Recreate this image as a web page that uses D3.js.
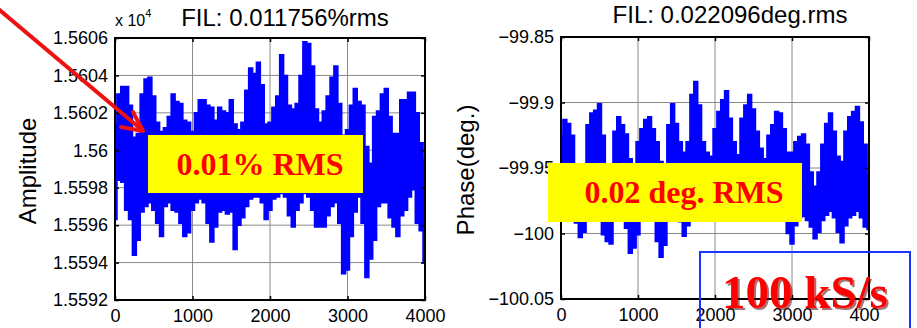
<!DOCTYPE html>
<html>
<head>
<meta charset="utf-8">
<script src="https://cdn.jsdelivr.net/npm/d3@7"></script>
<style>
  body { margin: 0; background: #fff; }
  svg { display: block; }
</style>
</head>
<body>
<svg id="chart" width="917" height="328"></svg>
<script>
// Filtered IQ capture, 4000 samples at 100 kS/s.
// Each window of 50 samples is kept as its highest and lowest reading.
const sampleStep = 50;
const sampleTicks = [0, 1000, 2000, 3000, 4000];

// Amplitude (raw counts), max / min per 50-sample window
const ampHigh = [
  15601.4, 15603.0, 15603.4, 15603.4, 15602.4, 15600.7, 15600.9, 15603.0, 15603.8, 15603.9,
  15602.9, 15601.5, 15601.0, 15601.2, 15601.8, 15603.0, 15602.6, 15602.5, 15601.6, 15601.5,
  15601.0, 15602.0, 15602.7, 15602.7, 15602.4, 15602.3, 15601.6, 15602.3, 15602.1, 15602.0,
  15602.7, 15601.4, 15601.1, 15601.5, 15603.2, 15604.4, 15604.1, 15604.7, 15603.5, 15601.4,
  15601.5, 15602.3, 15602.9, 15605.1, 15604.0, 15602.4, 15602.2, 15602.5, 15604.0, 15605.8,
  15605.7, 15604.5, 15602.2, 15601.5, 15602.1, 15602.9, 15603.9, 15604.5, 15602.5, 15600.8,
  15601.1, 15602.4, 15603.3, 15602.6, 15602.4, 15600.2, 15599.3, 15601.8, 15602.1, 15603.0,
  15603.3, 15601.8, 15600.9, 15600.9, 15602.7, 15602.7, 15603.1, 15603.1, 15602.0, 15600.4,
  15599.5
];
const ampLow = [
  15596.3, 15598.4, 15598.3, 15596.8, 15596.3, 15594.4, 15595.2, 15596.7, 15597.0, 15597.2,
  15596.8, 15596.1, 15595.4, 15597.0, 15597.2, 15596.8, 15596.7, 15596.1, 15595.4, 15595.6,
  15596.8, 15597.2, 15597.4, 15597.2, 15596.1, 15595.1, 15595.9, 15596.7, 15596.8, 15596.6,
  15596.7, 15594.7, 15596.0, 15596.4, 15597.0, 15597.4, 15597.5, 15597.5, 15597.2, 15596.3,
  15596.8, 15597.4, 15597.5, 15597.7, 15597.5, 15596.5, 15595.9, 15596.8, 15597.2, 15597.7,
  15597.5, 15596.8, 15595.9, 15595.9, 15595.9, 15596.5, 15597.0, 15597.2, 15596.1, 15593.4,
  15593.6, 15595.4, 15596.7, 15597.5, 15596.1, 15593.2, 15594.2, 15595.2, 15597.0, 15597.2,
  15597.2, 15596.4, 15595.9, 15595.4, 15596.5, 15596.8, 15597.5, 15597.9, 15596.1, 15595.7,
  15594.0
];
const ampTicks = [15592, 15594, 15596, 15598, 15600, 15602, 15604, 15606];

// Phase (deg.), max / min per 50-sample window
const phaseHigh = [
  -99.925, -99.913, -99.916, -99.925, -99.948, -99.950, -99.948, -99.917, -99.908, -99.906,
  -99.901, -99.925, -99.948, -99.949, -99.922, -99.911, -99.917, -99.924, -99.943, -99.948,
  -99.930, -99.920, -99.913, -99.911, -99.920, -99.930, -99.945, -99.947, -99.917, -99.901,
  -99.916, -99.930, -99.938, -99.930, -99.894, -99.884, -99.902, -99.930, -99.938, -99.941,
  -99.920, -99.907, -99.898, -99.891, -99.912, -99.930, -99.940, -99.912, -99.902, -99.894,
  -99.905, -99.922, -99.935, -99.943, -99.925, -99.917, -99.907, -99.908, -99.920, -99.938,
  -99.938, -99.930, -99.926, -99.924, -99.932, -99.953, -99.964, -99.953, -99.932, -99.916,
  -99.908, -99.922, -99.941, -99.945, -99.922, -99.911, -99.907, -99.903, -99.915, -99.932,
  -99.955
];
const phaseLow = [
  -99.986, -99.988, -99.990, -99.988, -99.992, -100.003, -99.999, -99.987, -99.981, -99.983,
  -99.987, -100.001, -100.006, -100.008, -99.988, -99.983, -99.986, -99.996, -100.015, -100.011,
  -100.001, -99.987, -99.983, -99.986, -99.990, -100.006, -100.018, -100.009, -99.990, -99.986,
  -99.987, -99.991, -100.002, -99.994, -99.986, -99.981, -99.983, -99.987, -99.988, -99.988,
  -99.988, -99.986, -99.983, -99.981, -99.986, -99.988, -99.990, -99.987, -99.983, -99.981,
  -99.983, -99.987, -99.988, -99.990, -99.988, -99.987, -99.983, -99.986, -99.990, -100.000,
  -100.008, -99.994, -99.988, -99.987, -99.990, -99.995, -100.004, -99.999, -99.990, -99.986,
  -99.983, -99.988, -99.999, -100.007, -99.994, -99.988, -99.986, -99.983, -99.988, -99.995,
  -99.997
];
const phaseTicks = [-100.05, -100, -99.95, -99.9, -99.85];

const ampTitle = "FIL: 0.011756%rms";
const phaseTitle = "FIL: 0.022096deg.rms";

const sans = '"Liberation Sans", Arial, sans-serif';
const serif = '"Liberation Serif", "Times New Roman", serif';

const svg = d3.select("#chart").attr("font-family", sans);

// soft shadow behind the sample-rate caption
const shadow = svg.append("defs").append("filter").attr("id", "drop")
  .attr("x", "-5%").attr("y", "-10%").attr("width", "115%").attr("height", "130%");
shadow.append("feDropShadow").attr("dx", 2).attr("dy", 2).attr("stdDeviation", 0.6)
  .attr("flood-color", "#600000").attr("flood-opacity", 0.55);

function panel(cfg) {
  const x = d3.scaleLinear().domain([0, 4000]).range([cfg.x0, cfg.x1]);
  const y = d3.scaleLinear().domain(cfg.yDomain).range([cfg.y1, cfg.y0]);
  const g = svg.append("g");

  // grid
  g.selectAll("line.vg").data(sampleTicks).join("line")
    .attr("x1", d => x(d)).attr("x2", d => x(d))
    .attr("y1", cfg.y0).attr("y2", cfg.y1)
    .attr("stroke", "#8a8a8a").attr("stroke-width", 1);
  g.selectAll("line.hg").data(cfg.yTicks).join("line")
    .attr("x1", cfg.x0).attr("x2", cfg.x1)
    .attr("y1", d => y(d)).attr("y2", d => y(d))
    .attr("stroke", "#8a8a8a").attr("stroke-width", 1);

  // signal band: every window spans from its lowest to its highest reading
  const clipId = "clip-" + cfg.id;
  svg.append("clipPath").attr("id", clipId).append("rect")
    .attr("x", cfg.x0).attr("y", cfg.y0)
    .attr("width", cfg.x1 - cfg.x0).attr("height", cfg.y1 - cfg.y0);
  const idx = d3.range(cfg.high.length);
  const band = d3.area()
    .curve(d3.curveStep)
    .x(i => x(i * sampleStep))
    .y0(i => y(cfg.low[i]))
    .y1(i => y(cfg.high[i]));
  g.append("path")
    .attr("clip-path", `url(#${clipId})`)
    .attr("d", band(idx))
    .attr("fill", "#0000ff").attr("stroke", "#0000ff")
    .attr("stroke-width", 1.6).attr("stroke-linejoin", "miter");

  // axes with inward ticks on all four sides
  const style = sel => {
    sel.select(".domain").remove();
    sel.selectAll(".tick line").attr("stroke", "#000").attr("stroke-width", 1.5);
    sel.selectAll("text").attr("font-size", 18).attr("fill", "#000").attr("font-family", sans);
  };
  g.append("g").attr("transform", `translate(0,${cfg.y1})`)
    .call(d3.axisBottom(x).tickValues(sampleTicks).tickSize(-4).tickPadding(9).tickFormat(d3.format("d")))
    .call(style);
  g.append("g").attr("transform", `translate(0,${cfg.y0})`)
    .call(d3.axisTop(x).tickValues(sampleTicks).tickSize(-4).tickFormat(""))
    .call(style);
  g.append("g").attr("transform", `translate(${cfg.x0},0)`)
    .call(d3.axisLeft(y).tickValues(cfg.yTicks).tickSize(-4).tickPadding(7).tickFormat(cfg.fmt))
    .call(style);
  g.append("g").attr("transform", `translate(${cfg.x1},0)`)
    .call(d3.axisRight(y).tickValues(cfg.yTicks).tickSize(-4).tickFormat(""))
    .call(style);

  // box
  g.append("rect")
    .attr("x", cfg.x0).attr("y", cfg.y0)
    .attr("width", cfg.x1 - cfg.x0).attr("height", cfg.y1 - cfg.y0)
    .attr("fill", "none").attr("stroke", "#000").attr("stroke-width", 2);

  // title and y label
  g.append("text").attr("x", cfg.titleX).attr("y", cfg.titleY)
    .attr("text-anchor", "middle").attr("font-size", 24).text(cfg.title);
  g.append("text")
    .attr("transform", `translate(${cfg.labelX},${(cfg.y0 + cfg.y1) / 2 + 2}) rotate(-90)`)
    .attr("text-anchor", "middle").attr("font-size", 24).text(cfg.label);
  return g;
}

panel({
  id: "amp", x0: 115, x1: 425, y0: 38, y1: 300,
  yDomain: [15592, 15606], yTicks: ampTicks,
  high: ampHigh, low: ampLow,
  fmt: d => String(+(d / 1e4).toFixed(4)),
  title: ampTitle, titleX: 285, titleY: 26,
  label: "Amplitude", labelX: 36
});

// exponent of the amplitude axis
const expo = svg.append("text").attr("x", 115).attr("y", 26).attr("font-size", 16);
expo.append("tspan").text("x 10");
expo.append("tspan").attr("font-size", 11).attr("dy", -9).text("4");

panel({
  id: "phase", x0: 561, x1: 869, y0: 37, y1: 299,
  yDomain: [-100.05, -99.85], yTicks: phaseTicks,
  high: phaseHigh, low: phaseLow,
  fmt: d => String(+d.toFixed(2)).replace("-", "\u2212"),
  title: phaseTitle, titleX: 730, titleY: 23,
  label: "Phase(deg.)", labelX: 474
});

// right margin of the slide
svg.append("rect").attr("x", 880).attr("y", 300).attr("width", 37).attr("height", 28).attr("fill", "#fff");

// callouts
svg.append("rect").attr("x", 148).attr("y", 135).attr("width", 215).attr("height", 58).attr("fill", "#ffff00");
svg.append("text").attr("x", 260).attr("y", 175).attr("text-anchor", "middle")
  .attr("font-family", serif).attr("font-weight", "bold").attr("font-size", 32)
  .attr("fill", "#ff0000").text("0.01% RMS");

svg.append("rect").attr("x", 548).attr("y", 163).attr("width", 254).attr("height", 59).attr("fill", "#ffff00");
svg.append("text").attr("x", 684).attr("y", 203).attr("text-anchor", "middle")
  .attr("font-family", serif).attr("font-weight", "bold").attr("font-size", 32)
  .attr("fill", "#ff0000").text("0.02 deg. RMS");

// red arrow pointing into the amplitude trace
const arrow = svg.append("g").attr("stroke", "#ee1111").attr("stroke-width", 4)
  .attr("fill", "none").attr("stroke-linecap", "round").attr("stroke-linejoin", "round");
arrow.append("line").attr("x1", -4).attr("y1", 7).attr("x2", 142).attr("y2", 130);
arrow.append("polyline").attr("points", "133,112 143,131 121,127");

// sample-rate box
svg.append("rect").attr("x", 700).attr("y", 252).attr("width", 210).attr("height", 90)
  .attr("fill", "none").attr("stroke", "#1a33ff").attr("stroke-width", 2);
svg.append("text").attr("x", 722).attr("y", 308)
  .attr("font-family", serif).attr("font-weight", "bold").attr("font-size", 47)
  .attr("fill", "#ff0000").attr("filter", "url(#drop)").text("100 kS/s");
</script>
</body>
</html>
